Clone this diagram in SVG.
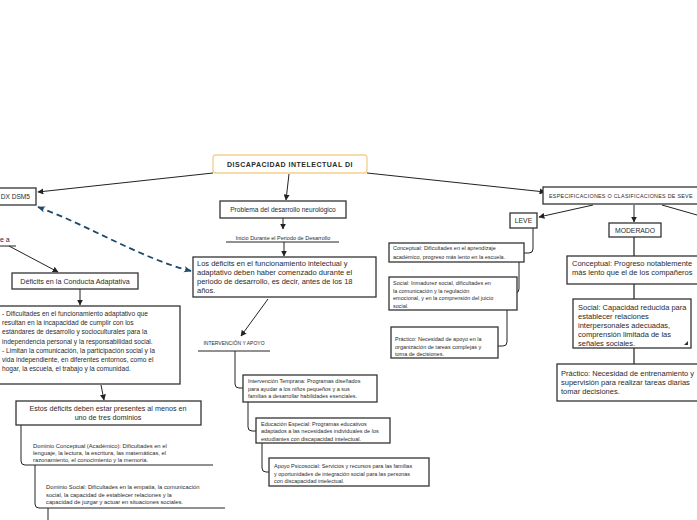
<svg xmlns="http://www.w3.org/2000/svg" width="697" height="520" viewBox="0 0 697 520">
<defs>
<marker id="ah" viewBox="0 0 10 10" refX="9" refY="5" markerWidth="6" markerHeight="6" markerUnits="userSpaceOnUse" orient="auto"><path d="M0,0 L10,5 L0,10 z" fill="#222"/></marker>
<marker id="ahb" viewBox="0 0 10 10" refX="9" refY="5" markerWidth="8" markerHeight="8" markerUnits="userSpaceOnUse" orient="auto-start-reverse"><path d="M0,1 L10,5 L0,9 L3,5 z" fill="#1b4a6b"/></marker>
</defs>
<style>
text{font-family:"Liberation Sans",Arial,sans-serif;fill:#2a2a2a}
.box{fill:#fff;stroke:#333;stroke-width:1.3}
.c{fill:none;stroke:#222;stroke-width:1}
.g{fill:none;stroke:#777;stroke-width:2}
.t7{font-size:7.2px}
.t75{font-size:7.5px}
.t66{font-size:6.6px}
.t58{font-size:5.8px}
.t55{font-size:5.5px}
.t5{font-size:5px}
.mid{text-anchor:middle}
</style>
<rect width="697" height="520" fill="#fff"/>

<g id="connectors">
<path class="c" d="M213,173 L38,192" marker-end="url(#ah)"/>
<path class="c" d="M367,173 L545,192" marker-end="url(#ah)"/>
<path class="c" d="M289,174 L286,200" marker-end="url(#ah)"/>
<path class="c" d="M283,218 L283,229" marker-end="url(#ah)"/>
<path class="c" d="M284,242 L284,256" marker-end="url(#ah)"/>
<path d="M38,207 C90,226 140,258 191,271" fill="none" stroke="#1b4a6b" stroke-width="1.8" stroke-dasharray="6,4" marker-start="url(#ahb)" marker-end="url(#ahb)"/>
<path class="c" d="M268,299 L241,336" marker-end="url(#ah)"/>
<path class="c" d="M235,351 V384 Q235,388 239,388 H243"/>
<path class="c" d="M248,402 V427 Q248,431 252,431 H256"/>
<path class="c" d="M262,443 V468 Q262,472 266,472 H269"/>
<path class="c" d="M9,246 L58,272" marker-end="url(#ah)"/>
<path class="c" d="M80,289 L80,305" marker-end="url(#ah)"/>
<path class="c" d="M101,385 L104,400" marker-end="url(#ah)"/>
<path class="c" d="M21,425 V461 Q21,465 25,465 H213"/>
<path class="c" d="M35,465 V504 Q35,508 39,508 H225"/>
<path class="c" d="M48,508 V520"/>
<path class="c" d="M593,205 L539,217" marker-end="url(#ah)"/>
<path class="c" d="M634,205 L634,222" marker-end="url(#ah)"/>
<path class="c" d="M662,205 L697,215"/>
<path class="c" d="M533,228 V249 Q533,253 529,253 H524"/>
<path class="c" d="M519,262 V289 Q519,293 515,293 H517"/>
<path class="c" d="M507,310 V342 Q507,346 503,346 H498"/>
<path class="g" d="M634,237 V256"/>
<path class="g" d="M634,284 V299"/>
<path class="g" d="M634,348 V364"/>
</g>

<g id="root">
<rect x="213" y="155" width="154" height="18" rx="3" fill="#fff" stroke="#f5cf8c" stroke-width="1.3"/>
<text x="290" y="166.5" class="mid" font-size="7px" font-weight="bold" letter-spacing="0.5">DISCAPACIDAD INTELECTUAL DI</text>
</g>

<g id="dxdsm5">
<rect class="box" x="-5" y="188" width="41" height="17"/>
<text x="30" y="199" font-size="6.6px" text-anchor="end">DX DSM5</text>
</g>

<g id="problema">
<rect class="box" x="220" y="201" width="126" height="17"/>
<text x="283" y="212" class="mid t66">Problema del desarrollo neurológico</text>
</g>

<g id="inicio">
<text x="283" y="239.5" class="mid t55">Inicio Durante el Periodo de Desarrollo</text>
<line x1="226" y1="242" x2="339" y2="242" stroke="#222" stroke-width="1"/>
</g>

<g id="losdeficits">
<rect class="box" x="193" y="257" width="183" height="40"/>
<text class="t75" x="197" y="266">Los déficits en el funcionamiento intelectual y</text>
<text class="t75" x="197" y="275">adaptativo deben haber comenzado durante el</text>
<text class="t75" x="197" y="284">periodo de desarrollo, es decir, antes de los 18</text>
<text class="t75" x="197" y="293">años.</text>
</g>

<g id="intervencion">
<text x="234" y="345" class="mid t5">INTERVENCIÓN Y APOYO</text>
<line x1="198" y1="351" x2="270" y2="351" stroke="#222" stroke-width="1"/>
</g>

<g id="temprana">
<rect class="box" x="243" y="375" width="134" height="27"/>
<text class="t55" x="248" y="383">Intervención Temprana: Programas diseñados</text>
<text class="t55" x="248" y="390.5">para ayudar a los niños pequeños y a sus</text>
<text class="t55" x="248" y="398">familias a desarrollar habilidades esenciales.</text>
</g>

<g id="especial">
<rect class="box" x="256" y="418" width="134" height="25"/>
<text class="t55" x="261" y="425.5">Educación Especial: Programas educativos</text>
<text class="t55" x="261" y="433">adaptados a las necesidades individuales de los</text>
<text class="t55" x="261" y="440.5">estudiantes con discapacidad intelectual.</text>
</g>

<g id="psicosocial">
<rect class="box" x="269" y="458" width="160" height="28"/>
<text class="t55" x="274" y="468">Apoyo Psicosocial: Servicios y recursos para las familias</text>
<text class="t55" x="274" y="475.5">y oportunidades de integración social para las personas</text>
<text class="t55" x="274" y="483">con discapacidad intelectual.</text>
</g>

<g id="ea">
<text x="0" y="242" font-size="7px">e a</text>
<line x1="0" y1="246" x2="16" y2="246" stroke="#222" stroke-width="1"/>
</g>

<g id="conducta">
<rect class="box" x="12" y="273" width="126" height="16"/>
<text x="75" y="283.5" class="mid t7">Déficits en la Conducta Adaptativa</text>
</g>

<g id="dificultades">
<rect class="box" x="-5" y="306" width="185" height="78"/>
<text class="t66" x="2" y="316">- Dificultades en el funcionamiento adaptativo que</text>
<text class="t66" x="2" y="325">resultan en la incapacidad de cumplir con los</text>
<text class="t66" x="2" y="334">estándares de desarrollo y socioculturales para la</text>
<text class="t66" x="2" y="343.5">independencia personal y la responsabilidad social.</text>
<text class="t66" x="2" y="352.5">- Limitan la comunicación, la participación social y la</text>
<text class="t66" x="2" y="361.5">vida independiente, en diferentes entornos, como el</text>
<text class="t66" x="2" y="370.5">hogar, la escuela, el trabajo y la comunidad.</text>
</g>

<g id="estos">
<rect class="box" x="16" y="401" width="185" height="24"/>
<text x="108" y="410.5" class="mid t7">Estos déficits deben estar presentes al menos en</text>
<text x="108" y="419.5" class="mid t7">uno de tres dominios</text>
</g>

<g id="dominioConceptual">
<text class="t58" x="33" y="448">Dominio Conceptual (Académico): Dificultades en el</text>
<text class="t58" x="33" y="455">lenguaje, la lectura, la escritura, las matemáticas, el</text>
<text class="t58" x="33" y="462">razonamiento, el conocimiento y la memoria.</text>
</g>

<g id="dominioSocial">
<text class="t58" x="46" y="489">Dominio Social: Dificultades en la empatía, la comunicación</text>
<text class="t58" x="46" y="496.5">social, la capacidad de establecer relaciones y la</text>
<text class="t58" x="46" y="504">capacidad de juzgar y actuar en situaciones sociales.</text>
</g>

<g id="especificaciones">
<rect class="box" x="543" y="187" width="160" height="17"/>
<text x="549" y="197.5" font-size="5.4px" letter-spacing="0.25">ESPECIFICACIONES O CLASIFICACIONES DE SEVE</text>
</g>

<g id="leve">
<rect class="box" x="510" y="213" width="27" height="15"/>
<text x="523.5" y="223" class="mid" font-size="6.8px">LEVE</text>
</g>

<g id="leveConceptual">
<rect class="box" x="389" y="243" width="135" height="19"/>
<text class="t55" x="393" y="250">Conceptual: Dificultades en el aprendizaje</text>
<text class="t55" x="393" y="258.5">académico, progreso más lento en la escuela.</text>
</g>

<g id="leveSocial">
<rect class="box" x="389" y="277" width="128" height="33"/>
<text class="t55" x="393" y="285">Social: Inmadurez social, dificultades en</text>
<text class="t55" x="393" y="292.5">la comunicación y la regulación</text>
<text class="t55" x="393" y="300">emocional, y en la comprensión del juicio</text>
<text class="t55" x="393" y="307.5">social.</text>
</g>

<g id="levePractico">
<rect class="box" x="391" y="327" width="107" height="31"/>
<text class="t55" x="395" y="341">Práctico: Necesidad de apoyo en la</text>
<text class="t55" x="395" y="348.5">organización de tareas complejas y</text>
<text class="t55" x="395" y="356">toma de decisiones.</text>
</g>

<g id="moderado">
<rect class="box" x="609" y="223" width="52" height="14"/>
<text x="635" y="232.5" class="mid" font-size="6.8px">MODERADO</text>
</g>

<g id="modConceptual">
<rect class="box" x="567" y="256" width="135" height="28"/>
<text class="t75" x="572" y="266">Conceptual: Progreso notablemente</text>
<text class="t75" x="572" y="275">más lento que el de los compañeros</text>
</g>

<g id="modSocial">
<rect class="box" x="573" y="299" width="118" height="49"/>
<text class="t75" x="578" y="310">Social: Capacidad reducida para</text>
<text class="t75" x="578" y="319">establecer relaciones</text>
<text class="t75" x="578" y="328">interpersonales adecuadas,</text>
<text class="t75" x="578" y="337">comprensión limitada de las</text>
<text class="t75" x="578" y="346">señales sociales.</text>
<path d="M688,341 L688,345 L684,345 z" fill="#333"/>
</g>

<g id="modPractico">
<rect class="box" x="557" y="364" width="145" height="37"/>
<text class="t75" x="561" y="376">Práctico: Necesidad de entrenamiento y</text>
<text class="t75" x="561" y="385">supervisión para realizar tareas diarias</text>
<text class="t75" x="561" y="394">tomar decisiones.</text>
</g>
</svg>
